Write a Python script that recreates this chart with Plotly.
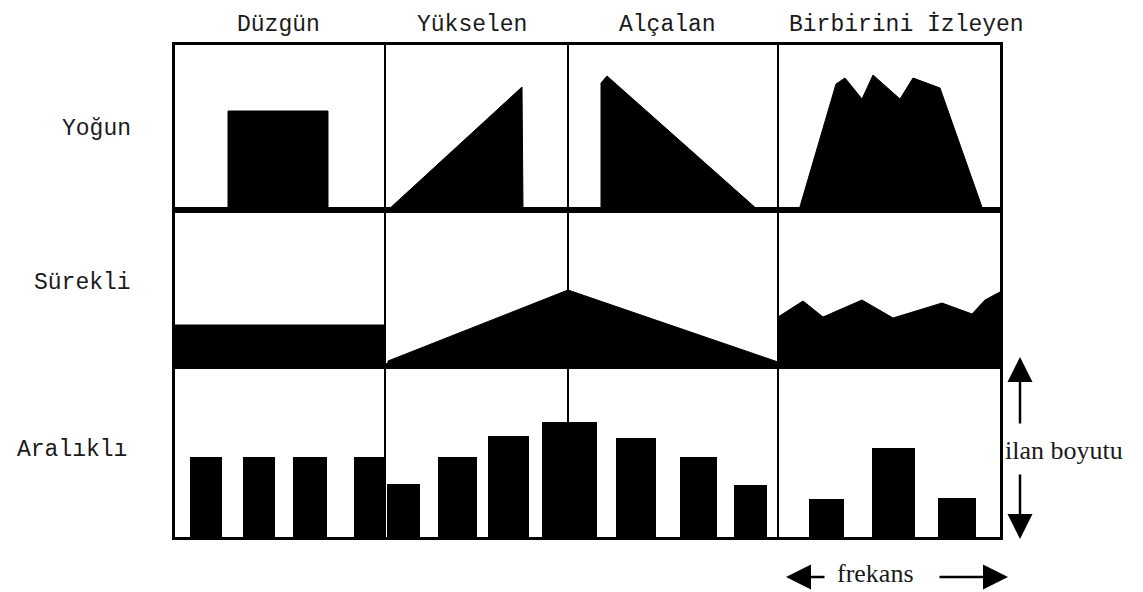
import plotly.graph_objects as go
from plotly.subplots import make_subplots

# ---------------- data (frequency position along the strip, ad size) ----------------
col_titles = ["Düzgün", "Yükselen", "Alçalan", "Birbirini İzleyen"]
row_titles = ["Yoğun", "Sürekli", "Aralıklı"]
col_edges = [210, 393, 603]          # boundaries between the four patterns (frequency units)
x_max = 825

# Row 1 - Yoğun (intensive)
yogun_duzgun_x = [53, 53, 153, 153]
yogun_duzgun_h = [0, 99, 99, 0]
yogun_yukselen_x = [213, 347, 348]
yogun_yukselen_h = [0, 123, 0]
yogun_alcalan_x = [426, 426, 432, 583]
yogun_alcalan_h = [0, 127, 134, 0]
yogun_izleyen_x = [624, 661, 670, 687, 698, 725, 738, 765, 808]
yogun_izleyen_h = [0, 126, 132, 111, 135, 111, 132, 122, 0]

# Row 2 - Sürekli (continuous)
surekli_duzgun_x = [0, 0, 210, 210]
surekli_duzgun_h = [0, 41, 41, 0]
surekli_yukalc_x = [213, 213, 393, 603, 603]
surekli_yukalc_h = [0, 5, 76, 4, 0]
surekli_izleyen_x = [603, 603, 628, 648, 687, 718, 767, 797, 810, 825, 825]
surekli_izleyen_h = [0, 49, 65, 49, 66, 48, 63, 52, 66, 74, 0]

# Row 3 - Aralıklı (intermittent) bursts
aralikli_start = [15, 68, 118, 179, 212, 263, 313, 367, 441, 505, 559, 634, 697, 763]
aralikli_end = [47, 100, 152, 211, 245, 302, 354, 422, 481, 542, 592, 669, 740, 801]
aralikli_h = [80, 80, 80, 80, 53, 80, 101, 115, 99, 80, 52, 38, 89, 39]

row_heights = [165, 156, 171]

# ---------------- figure ----------------
OFF = 8                      # page body margin of the HTML document
W, H = 1143 - OFF, 592 - OFF
ML, MT = 175 - OFF, 45 - OFF
PW, PH = 825, sum(row_heights)
MR, MB = W - ML - PW, H - MT - PH


def px(x):
    return (x - OFF - ML) / PW


def py(y):
    return (MT + PH - (y - OFF)) / PH


fig = make_subplots(rows=3, cols=1, shared_xaxes=True, vertical_spacing=0,
                    row_heights=row_heights)

poly_style = dict(mode="lines", fill="toself", fillcolor="black",
                  line=dict(color="black", width=1), hoverinfo="skip", showlegend=False)

for xs, hs in [(yogun_duzgun_x, yogun_duzgun_h), (yogun_yukselen_x, yogun_yukselen_h),
               (yogun_alcalan_x, yogun_alcalan_h), (yogun_izleyen_x, yogun_izleyen_h)]:
    fig.add_trace(go.Scatter(x=xs, y=hs, **poly_style), row=1, col=1)

for xs, hs in [(surekli_duzgun_x, surekli_duzgun_h), (surekli_yukalc_x, surekli_yukalc_h),
               (surekli_izleyen_x, surekli_izleyen_h)]:
    fig.add_trace(go.Scatter(x=xs, y=hs, **poly_style), row=2, col=1)

centers = [(a + b) / 2 for a, b in zip(aralikli_start, aralikli_end)]
widths = [b - a for a, b in zip(aralikli_start, aralikli_end)]
fig.add_trace(go.Bar(x=centers, y=aralikli_h, width=widths, base=0,
                     marker=dict(color="black", line=dict(width=0)),
                     hoverinfo="skip", showlegend=False), row=3, col=1)

axis_style = dict(showline=True, mirror=True, linecolor="black", linewidth=3,
                  showgrid=False, zeroline=False, showticklabels=False, ticks="")
for r in range(1, 4):
    fig.update_xaxes(range=[0, x_max], row=r, col=1, **axis_style)
    fig.update_yaxes(range=[0, row_heights[r - 1]], row=r, col=1, **axis_style)

# column dividers
for xa, ya in [("x", "y"), ("x2", "y2"), ("x3", "y3")]:
    for e in col_edges:
        fig.add_shape(type="line", xref=xa, yref=ya + " domain", x0=e, x1=e, y0=0, y1=1,
                      line=dict(color="black", width=2), layer="below")

mono = dict(family="Liberation Mono, Courier New, monospace", size=23, color="#1a1a1a")
serif = dict(family="Liberation Serif, Times New Roman, serif", size=26, color="#1a1a1a")

col_centers_px = [278, 472, 667, 906]
for t, cx in zip(col_titles, col_centers_px):
    fig.add_annotation(text=t, x=px(cx), y=py(25), xref="paper", yref="paper",
                       showarrow=False, font=mono, xanchor="center", yanchor="middle")

row_label_pos = [(133, 129), (133, 283), (129, 450)]
for t, (rx, cy) in zip(row_titles, row_label_pos):
    fig.add_annotation(text=t, x=px(rx), y=py(cy), xref="paper", yref="paper",
                       showarrow=False, font=mono, xanchor="right", yanchor="middle")

# size axis annotation
fig.add_annotation(text="ilan boyutu", x=px(1003), y=py(450), xref="paper", yref="paper",
                   showarrow=False, font=serif, xanchor="left", yanchor="middle")
arrow = dict(text="", showarrow=True, arrowhead=2, arrowsize=2.0, arrowwidth=2.5,
             arrowcolor="black", xref="paper", yref="paper", axref="pixel", ayref="pixel")
fig.add_annotation(x=px(1020), y=py(357), ax=0, ay=68, **arrow)
fig.add_annotation(x=px(1020), y=py(539), ax=0, ay=-66, **arrow)

# frequency annotation
fig.add_annotation(text="frekans", x=px(875), y=py(573), xref="paper", yref="paper",
                   showarrow=False, font=serif, xanchor="center", yanchor="middle")
fig.add_annotation(x=px(786), y=py(577), ax=40, ay=0, **arrow)
fig.add_annotation(x=px(1008), y=py(577), ax=-70, ay=0, **arrow)

fig.update_layout(width=W, height=H, margin=dict(l=ML, r=MR, t=MT, b=MB, autoexpand=False),
                  paper_bgcolor="white", plot_bgcolor="white", bargap=0)

fig.write_html("out.html")
